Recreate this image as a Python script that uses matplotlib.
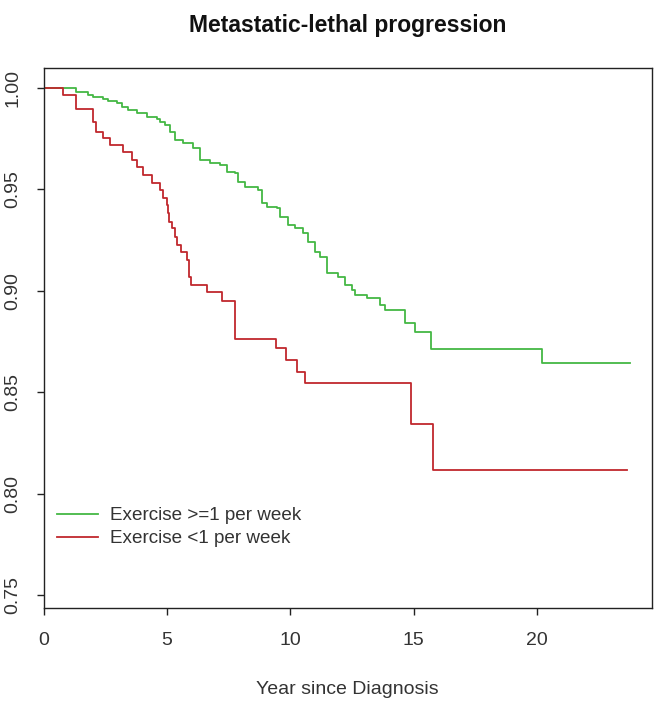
import matplotlib
matplotlib.use("Agg")
import matplotlib.pyplot as plt

plt.rcParams['font.family'] = ['Liberation Sans', 'DejaVu Sans']

title = "Metastatic-lethal progression"
xlabel = "Year since Diagnosis"
legend_labels = ["Exercise >=1 per week", "Exercise <1 per week"]
x_ticks = [0, 5, 10, 15, 20]
y_ticks = [0.75, 0.80, 0.85, 0.90, 0.95, 1.00]

# Group: exercise >= 1 per week (green)
green_times = [0, 1.31, 1.81, 2.01, 2.42, 2.62, 2.99, 3.16, 3.43, 3.77, 4.18, 4.58,
               4.72, 4.92, 5.12, 5.32, 5.66, 6.07, 6.34, 6.74, 7.15, 7.42, 7.76,
               7.89, 8.16, 8.70, 8.84, 9.04, 9.44, 9.58, 9.92, 10.19, 10.52, 10.73,
               10.99, 11.20, 11.47, 11.94, 12.21, 12.48, 12.62, 13.09, 13.63, 13.83,
               14.64, 15.05, 15.70, 20.20, 23.76]
green_surv = [1.0, 0.9982, 0.9965, 0.9954, 0.9946, 0.9936, 0.9925, 0.9908, 0.9892,
              0.9877, 0.9858, 0.9846, 0.9834, 0.9818, 0.9785, 0.9744, 0.9727, 0.9703,
              0.9645, 0.9632, 0.9620, 0.9587, 0.9579, 0.9538, 0.9513, 0.9497, 0.9431,
              0.9415, 0.9407, 0.9365, 0.9324, 0.9308, 0.9284, 0.9242, 0.9193, 0.9168,
              0.9086, 0.9067, 0.9029, 0.9004, 0.8979, 0.8963, 0.8930, 0.8905, 0.8840,
              0.8798, 0.8712, 0.8643, 0.8643]

# Group: exercise < 1 per week (red)
red_times = [0, 0.80, 1.31, 1.99, 2.12, 2.42, 2.69, 3.21, 3.57, 3.77, 4.04, 4.38,
             4.72, 4.85, 4.99, 5.05, 5.09, 5.19, 5.32, 5.39, 5.57, 5.80, 5.89, 5.96,
             6.63, 7.23, 7.75, 9.42, 9.83, 10.27, 10.60, 14.87, 15.77, 23.65]
red_surv = [1.0, 0.9967, 0.9895, 0.9834, 0.9785, 0.9752, 0.9719, 0.9686, 0.9645,
            0.9612, 0.9571, 0.9530, 0.9497, 0.9456, 0.9423, 0.9382, 0.9341, 0.9308,
            0.9267, 0.9226, 0.9193, 0.9152, 0.9070, 0.9029, 0.8993, 0.8950, 0.8762,
            0.8718, 0.8659, 0.8600, 0.8544, 0.8342, 0.8117, 0.8117]

green_color = "#44B844"
red_color = "#C0282D"

fig = plt.figure(figsize=(6.64, 7.01), dpi=100)
ax = fig.add_axes([0.0657, 0.1327, 0.9163, 0.7703])

ax.step(green_times, green_surv, where='post', color=green_color, lw=1.3,
        label=legend_labels[0])
ax.step(red_times, red_surv, where='post', color=red_color, lw=1.3,
        label=legend_labels[1])

ax.set_xlim(0, 24.65)
ax.set_ylim(0.7436, 1.0099)
ax.set_xticks(x_ticks)
ax.set_xticklabels([str(t) for t in x_ticks])
ax.set_yticks(y_ticks)
ax.set_yticklabels([f"{t:.2f}" for t in y_ticks], rotation=90, va='center')

for s in ax.spines.values():
    s.set_linewidth(1.0)
    s.set_color('#222222')
ax.tick_params(axis='both', length=5, width=1.0, colors='#222222',
               labelsize=14, labelcolor='#333333')
ax.tick_params(axis='x', pad=12)
ax.tick_params(axis='y', pad=11)

fig.text(0.5234, 0.963, title, ha='center', va='center', fontsize=16.5,
         fontweight='bold', color='#111111')
fig.text(0.5234, 0.0157, xlabel, ha='center', va='center', fontsize=14,
         color='#333333')

leg = ax.legend(loc='upper left', bbox_to_anchor=(0.022, 0.187), frameon=False,
                fontsize=13.6, handlelength=2.15, handletextpad=0.65,
                labelspacing=0.3, borderpad=0, borderaxespad=0)
for t in leg.get_texts():
    t.set_color('#333333')

fig.savefig("out.png", dpi=100)
